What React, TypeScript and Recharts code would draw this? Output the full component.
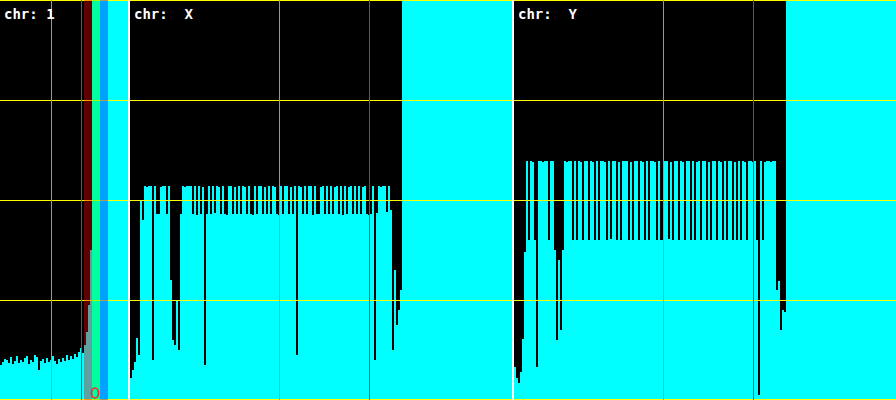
import React from 'react';
import { Bar, BarChart, ReferenceArea, ReferenceDot, ReferenceLine, XAxis, YAxis } from 'recharts';

// read depth per 2px bin, capped at 400
const chr1Depth = [
  35, 38, 41, 40, 37, 43, 36, 39, 44, 37,
  40, 38, 42, 44, 36, 40, 38, 45, 43, 30,
  39, 41, 37, 42, 38, 40, 44, 39, 36, 41,
  38, 42, 39, 45, 40, 44, 41, 46, 43, 48,
  52, 47, 55, 68, 95, 150, 400, 400, 400, 400,
  400, 400, 400, 400, 400, 400, 400, 400, 400, 400,
  400, 400, 400, 400,
];

const chrXDepth = [
  22, 30, 38, 62, 45, 200, 180, 214, 213, 214,
  214, 40, 214, 186, 186, 213, 214, 214, 186, 214,
  120, 60, 55, 100, 50, 186, 214, 213, 214, 214,
  214, 186, 214, 185, 214, 186, 213, 35, 186, 214,
  186, 214, 187, 214, 213, 186, 214, 186, 185, 214,
  214, 186, 213, 186, 214, 186, 214, 213, 186, 214,
  186, 185, 214, 186, 214, 214, 186, 213, 186, 214,
  186, 214, 213, 186, 185, 214, 186, 214, 214, 186,
  213, 186, 214, 45, 214, 213, 186, 214, 186, 214,
  214, 185, 214, 186, 186, 213, 214, 186, 214, 186,
  214, 186, 213, 214, 186, 214, 185, 214, 186, 213,
  214, 186, 214, 186, 214, 186, 213, 214, 186, 185,
  186, 214, 40, 187, 214, 213, 214, 214, 188, 214,
  190, 50, 130, 75, 90, 110, 400, 400, 400, 400,
  400, 400, 400, 400, 400, 400, 400, 400, 400, 400,
  400, 400, 400, 400, 400, 400, 400, 400, 400, 400,
  400, 400, 400, 400, 400, 400, 400, 400, 400, 400,
  400, 400, 400, 400, 400, 400, 400, 400, 400, 400,
  400, 400, 400, 400, 400, 400, 400, 400, 400, 400,
  400,
];

const chrYDepth = [
  33, 22, 17, 28, 61, 148, 239, 160, 239, 238,
  160, 33, 239, 239, 238, 239, 239, 160, 239, 239,
  150, 60, 140, 70, 150, 239, 238, 239, 239, 160,
  239, 160, 239, 238, 160, 239, 239, 160, 239, 238,
  160, 239, 160, 239, 239, 238, 160, 239, 161, 239,
  239, 160, 238, 160, 239, 239, 239, 160, 238, 160,
  239, 239, 160, 239, 238, 160, 239, 160, 239, 239,
  238, 160, 239, 160, 160, 239, 239, 161, 238, 160,
  239, 239, 160, 239, 238, 160, 239, 239, 160, 239,
  160, 238, 239, 160, 239, 239, 160, 238, 160, 239,
  239, 160, 239, 238, 160, 239, 160, 239, 239, 160,
  238, 160, 239, 160, 239, 238, 160, 239, 239, 238,
  239, 160, 5, 239, 160, 238, 239, 239, 238, 239,
  239, 110, 119, 70, 90, 88, 400, 400, 400, 400,
  400, 400, 400, 400, 400, 400, 400, 400, 400, 400,
  400, 400, 400, 400, 400, 400, 400, 400, 400, 400,
  400, 400, 400, 400, 400, 400, 400, 400, 400, 400,
  400, 400, 400, 400, 400, 400, 400, 400, 400, 400,
  400, 400, 400, 400, 400, 400, 400, 400, 400, 400,
  400,
];

const depthLevels = [100, 200, 300];
const edgeLevels = [0, 400];

// highlighted bin ranges on chr 1
const chr1Bands = [
  { from: 42, to: 45, color: '#ff0000' },
  { from: 46, to: 49, color: '#00ff00' },
  { from: 50, to: 53, color: '#0000ff' },
];

const panels = [
  { label: 'chr: 1', depth: chr1Depth, greenBin: 25, redBin: 40, bands: chr1Bands, marker: { bin: 47, depth: 7 } },
  { label: 'chr:  X', depth: chrXDepth, greenBin: 74, redBin: 119, bands: [], marker: null },
  { label: 'chr:  Y', depth: chrYDepth, greenBin: 74, redBin: 119, bands: [], marker: null },
];

const BIN_PX = 2;

const Ring = (props: any) => (
  <ellipse cx={props.cx} cy={props.cy} rx={3.5} ry={5} fill="none" stroke="#ff2020" strokeWidth={1.6} />
);

function DepthPanel({ label, depth, greenBin, redBin, bands, marker }: any) {
  const width = depth.length * BIN_PX;
  const data = depth.map((v: number, i: number) => ({ bin: i, depth: v }));
  return (
    <div style={{ position: 'relative', width, height: 400 }}>
      <BarChart
        width={width}
        height={400}
        data={data}
        margin={{ top: 0, right: 0, bottom: 0, left: 0 }}
        barCategoryGap={0}
        barGap={0}
      >
        <XAxis dataKey="bin" hide />
        <YAxis hide domain={[0, 400]} allowDataOverflow />
        <Bar dataKey="depth" fill="#00ffff" isAnimationActive={false} />
        {depthLevels.map((lv) => (
          <ReferenceLine key={lv} y={lv} stroke="#ffff00" strokeWidth={1} />
        ))}
        {edgeLevels.map((lv) => (
          <ReferenceLine key={'e' + lv} y={lv} stroke="#ffff00" strokeWidth={2} />
        ))}
        <ReferenceLine x={greenBin} stroke="#33dd33" />
        <ReferenceLine x={redBin} stroke="#e02020" />
        {bands.map((b: any) => (
          <ReferenceArea
            key={b.from}
            x1={b.from}
            x2={b.to}
            fill={b.color}
            fillOpacity={0.37}
            stroke="none"
            zIndex={450}
          />
        ))}
        {marker && <ReferenceDot x={marker.bin} y={marker.depth} shape={Ring} zIndex={700} />}
      </BarChart>
      <div
        style={{
          position: 'absolute',
          left: 4,
          top: 6,
          color: '#fff',
          fontFamily: '"DejaVu Sans Mono", monospace',
          fontSize: 14,
          fontWeight: 'bold',
          lineHeight: '16px',
          whiteSpace: 'pre',
        }}
      >
        {label}
      </div>
    </div>
  );
}

export default function App() {
  return (
    <div
      className="depth"
      style={{ position: 'fixed', left: 0, top: 0, width: 896, height: 400, background: '#000', display: 'flex' }}
    >
      <style>{`.depth svg rect, .depth svg line, .depth svg path { shape-rendering: crispEdges; }`}</style>
      {panels.map((p, i) => (
        <React.Fragment key={p.label}>
          {i > 0 && <div style={{ width: 2, height: 400, background: '#fff' }} />}
          <DepthPanel {...p} />
        </React.Fragment>
      ))}
    </div>
  );
}
